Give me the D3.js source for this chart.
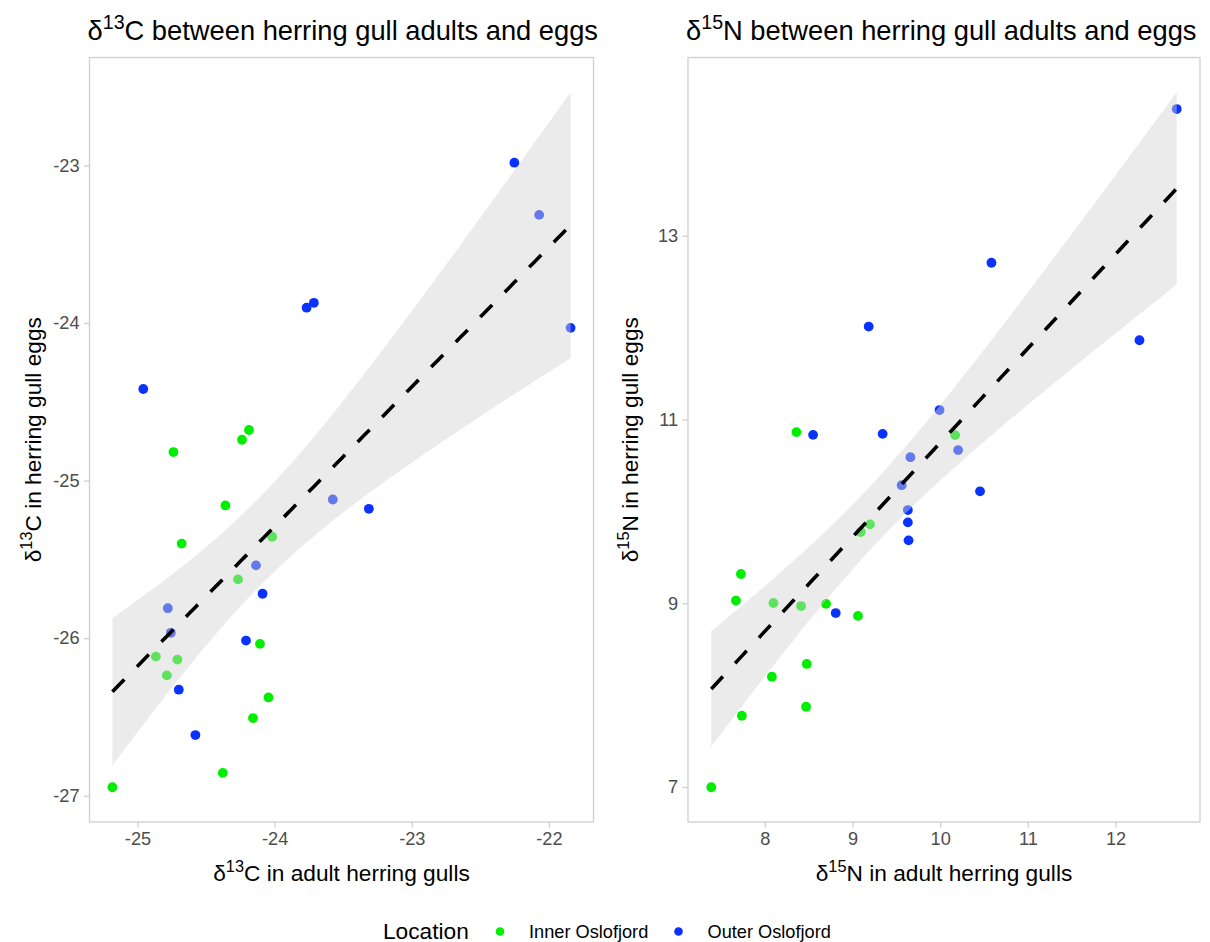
<!DOCTYPE html>
<html>
<head>
<meta charset="utf-8">
<script src="https://cdn.jsdelivr.net/npm/d3@7"></script>
<style>
  body { margin: 0; background: #fff; }
  text { font-family: "Liberation Sans", Arial, Helvetica, sans-serif; }
</style>
</head>
<body>
<svg id="chart" width="1210" height="942"></svg>
<script>
// Legend categories and their colours
const locations = ["Inner Oslofjord", "Outer Oslofjord"];
const locationColors = ["#00ee00", "#0a32ff"];

// δ13C: adult value, egg value — Inner Oslofjord
const carbonInnerAdult = [-24.187, -24.238, -24.738, -24.359, -24.678, -24.018, -24.267, -24.107, -24.866, -24.709, -24.786, -24.045, -24.158, -24.378, -25.183];
const carbonInnerEgg   = [-24.679, -24.741, -24.819, -25.158, -25.400, -25.357, -25.627, -26.036, -26.117, -26.136, -26.236, -26.376, -26.507, -26.855, -26.946];
// δ13C — Outer Oslofjord
const carbonOuterAdult = [-22.252, -22.071, -21.842, -23.767, -23.714, -24.958, -23.576, -23.313, -24.136, -24.088, -24.779, -24.757, -24.209, -24.699, -24.578];
const carbonOuterEgg   = [-22.983, -23.314, -24.031, -23.903, -23.872, -24.419, -25.120, -25.179, -25.538, -25.718, -25.810, -25.966, -26.015, -26.327, -26.615];

// δ15N: adult value, egg value — Inner Oslofjord
const nitrogenInnerAdult = [10.171, 8.361, 9.200, 9.094, 7.728, 7.671, 8.099, 8.414, 8.699, 9.063, 8.479, 8.081, 7.739, 8.471, 7.390];
const nitrogenInnerEgg   = [10.829, 10.862, 9.858, 9.774, 9.318, 9.029, 9.002, 8.969, 8.993, 8.862, 8.339, 8.200, 7.775, 7.873, 6.997];
// δ15N — Outer Oslofjord
const nitrogenOuterAdult = [12.698, 10.585, 9.185, 12.273, 9.993, 9.344, 10.205, 9.661, 8.551, 9.561, 10.455, 9.632, 9.632, 9.640, 8.809];
const nitrogenOuterEgg   = [14.378, 12.705, 12.011, 11.862, 11.102, 10.843, 10.666, 10.589, 10.832, 10.284, 10.218, 10.014, 9.880, 9.684, 8.893];

// Tick labels
const carbonXTicks = [-25, -24, -23, -22];
const carbonYTicks = [-27, -26, -25, -24, -23];
const nitrogenXTicks = [8, 9, 10, 11, 12];
const nitrogenYTicks = [7, 9, 11, 13];

const svg = d3.select("#chart");
const BASE = 22.7;        // base font size
const TICK_FONT = 18.2;
const TITLE_FONT = 27.3;

// writes "δ<sup>N</sup>X rest" into a text element
function isotopeText(sel, sup, element, rest, size) {
  sel.append("tspan").text("δ");
  sel.append("tspan").attr("font-size", size * 0.72).attr("dy", -size * 0.38).text(sup);
  sel.append("tspan").attr("dy", size * 0.38).text(element + rest);
}

function buildRows(innerX, innerY, outerX, outerY) {
  const rows = [];
  innerX.forEach((v, i) => rows.push({ x: v, y: innerY[i], loc: 0 }));
  outerX.forEach((v, i) => rows.push({ x: v, y: outerY[i], loc: 1 }));
  return rows;
}

// ordinary least squares with a 95% confidence band
function linearFit(rows, nSteps) {
  const n = rows.length;
  const xbar = d3.mean(rows, d => d.x), ybar = d3.mean(rows, d => d.y);
  let sxx = 0, sxy = 0;
  rows.forEach(d => { sxx += (d.x - xbar) ** 2; sxy += (d.x - xbar) * (d.y - ybar); });
  const b = sxy / sxx, a = ybar - b * xbar;
  let sse = 0;
  rows.forEach(d => { sse += (d.y - a - b * d.x) ** 2; });
  const s = Math.sqrt(sse / (n - 2));
  const t = 2.0484; // t(0.975, df = 28)
  const [x0, x1] = d3.extent(rows, d => d.x);
  const band = d3.range(nSteps + 1).map(i => {
    const x = x0 + (x1 - x0) * i / nSteps;
    const fit = a + b * x;
    const se = s * Math.sqrt(1 / n + (x - xbar) ** 2 / sxx);
    return { x, fit, lo: fit - t * se, hi: fit + t * se };
  });
  return band;
}

function drawPanel(cfg) {
  const { rows, box, xTicks, yTicks } = cfg;
  const band = linearFit(rows, 100);
  const xExt = d3.extent(rows, d => d.x);
  const yLo = Math.min(d3.min(rows, d => d.y), d3.min(band, d => d.lo));
  const yHi = Math.max(d3.max(rows, d => d.y), d3.max(band, d => d.hi));
  const xPad = (xExt[1] - xExt[0]) * 0.05, yPad = (yHi - yLo) * 0.05;

  const x = d3.scaleLinear().domain([xExt[0] - xPad, xExt[1] + xPad]).range([box.left, box.right]);
  const y = d3.scaleLinear().domain([yLo - yPad, yHi + yPad]).range([box.bottom, box.top]);

  const g = svg.append("g");

  // panel clip
  const clipId = "clip" + cfg.id;
  g.append("clipPath").attr("id", clipId).append("rect")
    .attr("x", box.left).attr("y", box.top)
    .attr("width", box.right - box.left).attr("height", box.bottom - box.top);

  const plot = g.append("g").attr("clip-path", `url(#${clipId})`);

  plot.selectAll("circle").data(rows).join("circle")
    .attr("cx", d => x(d.x)).attr("cy", d => y(d.y)).attr("r", 4.9)
    .attr("fill", d => locationColors[d.loc]);

  plot.append("path").datum(band)
    .attr("d", d3.area().x(d => x(d.x)).y0(d => y(d.lo)).y1(d => y(d.hi)))
    .attr("fill", "#d3d3d3").attr("fill-opacity", 0.45);

  plot.append("path").datum(band)
    .attr("d", d3.line().x(d => x(d.x)).y(d => y(d.fit)))
    .attr("fill", "none").attr("stroke", "#000").attr("stroke-width", 3.6)
    .attr("stroke-dasharray", "17 18");

  // border
  g.append("rect")
    .attr("x", box.left).attr("y", box.top)
    .attr("width", box.right - box.left).attr("height", box.bottom - box.top)
    .attr("fill", "none").attr("stroke", "#cfcfcf").attr("stroke-width", 1.3);

  const xAxis = g.append("g").attr("transform", `translate(0,${box.bottom})`)
    .call(d3.axisBottom(x).tickValues(xTicks).tickFormat(d => String(d)).tickSize(5.5).tickPadding(4.4));
  const yAxis = g.append("g").attr("transform", `translate(${box.left},0)`)
    .call(d3.axisLeft(y).tickValues(yTicks).tickFormat(d => String(d)).tickSize(5.5).tickPadding(4.4));
  [xAxis, yAxis].forEach(ax => {
    ax.select(".domain").remove();
    ax.selectAll(".tick line").attr("stroke", "#cfcfcf").attr("stroke-width", 1.3);
    ax.selectAll(".tick text").attr("fill", "#4d4d4d").attr("font-size", TICK_FONT)
      .attr("font-family", '"Liberation Sans", Arial, sans-serif');
  });

  // titles
  const cx = (box.left + box.right) / 2, cy = (box.top + box.bottom) / 2;
  const title = g.append("text").attr("x", box.left - 2).attr("y", 39.5)
    .attr("font-size", TITLE_FONT).attr("fill", "#000");
  isotopeText(title, cfg.sup, cfg.el, " between herring gull adults and eggs", TITLE_FONT);

  const xt = g.append("text").attr("x", cx).attr("y", 880.5).attr("text-anchor", "middle")
    .attr("font-size", BASE).attr("fill", "#000");
  isotopeText(xt, cfg.sup, cfg.el, " in adult herring gulls", BASE);

  const yt = g.append("text").attr("transform", `translate(${cfg.yTitleX},${cy}) rotate(-90)`)
    .attr("text-anchor", "middle").attr("font-size", BASE).attr("fill", "#000");
  isotopeText(yt, cfg.sup, cfg.el, " in herring gull eggs", BASE);
}

drawPanel({
  id: "C",
  rows: buildRows(carbonInnerAdult, carbonInnerEgg, carbonOuterAdult, carbonOuterEgg),
  box: { left: 89.5, right: 593.5, top: 57.5, bottom: 822 },
  xTicks: carbonXTicks, yTicks: carbonYTicks,
  sup: "13", el: "C", yTitleX: 41
});

drawPanel({
  id: "N",
  rows: buildRows(nitrogenInnerAdult, nitrogenInnerEgg, nitrogenOuterAdult, nitrogenOuterEgg),
  box: { left: 688, right: 1200, top: 57.5, bottom: 822 },
  xTicks: nitrogenXTicks, yTicks: nitrogenYTicks,
  sup: "15", el: "N", yTitleX: 638
});

// legend
const legend = svg.append("g");
legend.append("text").attr("x", 383).attr("y", 938.5).attr("font-size", BASE).attr("fill", "#000").text("Location");
const keyX = [500, 678.5], labelX = [529, 707.5];
locations.forEach((name, i) => {
  legend.append("circle").attr("cx", keyX[i]).attr("cy", 931.5).attr("r", 4.3).attr("fill", locationColors[i]);
  legend.append("text").attr("x", labelX[i]).attr("y", 938).attr("font-size", TICK_FONT).attr("fill", "#000").text(name);
});
</script>
</body>
</html>
